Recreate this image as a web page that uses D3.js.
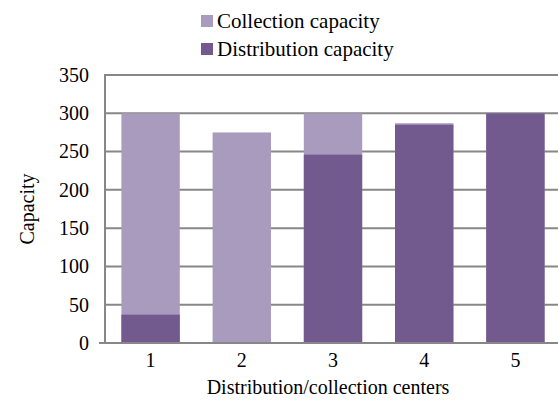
<!DOCTYPE html>
<html>
<head>
<meta charset="utf-8">
<script src="https://cdn.jsdelivr.net/npm/d3@7"></script>
<style>
  html, body { margin: 0; padding: 0; background: #fff; }
  svg { display: block; }
  svg text { font-family: "Liberation Serif", "Times New Roman", serif !important; fill: #000; }
</style>
</head>
<body>
<svg id="chart" width="558" height="402"></svg>
<script>
// Capacity of each distribution/collection center
const centers = ["1", "2", "3", "4", "5"];
const collectionCapacity = [300, 275, 300, 287, 300];
const distributionCapacity = [37, 0, 246, 285, 300];
const yTicks = [0, 50, 100, 150, 200, 250, 300, 350];
const seriesNames = ["Collection capacity", "Distribution capacity"];
const seriesColors = ["#A99BBE", "#72598E"];

const svg = d3.select("#chart");
const margin = { left: 105, top: 75, right: -3, bottom: 59 };
const W = 558, H = 402;
const plotRight = W - margin.right;
const plotBottom = H - margin.bottom;

const x = d3.scaleBand()
  .domain(centers)
  .range([margin.left, plotRight])
  .paddingInner(0.36)
  .paddingOuter(0.18);

const y = d3.scaleLinear()
  .domain([0, 350])
  .range([plotBottom, margin.top]);

const gridColor = "#878787";

// horizontal gridlines
svg.append("g")
  .selectAll("line")
  .data(yTicks)
  .join("line")
  .attr("x1", margin.left)
  .attr("x2", plotRight)
  .attr("y1", d => y(d))
  .attr("y2", d => y(d))
  .attr("stroke", gridColor)
  .attr("stroke-width", 2);

// overlapping bars: collection behind, distribution in front
const series = [collectionCapacity, distributionCapacity];
series.forEach((vals, si) => {
  svg.append("g")
    .selectAll("rect")
    .data(vals)
    .join("rect")
    .attr("x", (d, i) => x(centers[i]))
    .attr("width", x.bandwidth())
    .attr("y", d => y(d))
    .attr("height", d => y(0) - y(d))
    .attr("fill", seriesColors[si]);
});

// left axis line and baseline
svg.append("line")
  .attr("x1", margin.left).attr("x2", margin.left)
  .attr("y1", y(350) - 1).attr("y2", y(0) + 1)
  .attr("stroke", gridColor).attr("stroke-width", 2);
svg.append("line")
  .attr("x1", margin.left - 6).attr("x2", plotRight)
  .attr("y1", y(0)).attr("y2", y(0))
  .attr("stroke", gridColor).attr("stroke-width", 2);

// y axis labels
const yAxis = d3.axisLeft(y).tickValues(yTicks).tickSize(0).tickPadding(16);
const gy = svg.append("g")
  .attr("transform", `translate(${margin.left},0)`)
  .call(yAxis);
gy.select(".domain").remove();
gy.selectAll("text")
  .style("font-size", "20px")
  .attr("fill", "#000");

// x axis labels
const xAxis = d3.axisBottom(x).tickSize(0).tickPadding(10);
const gx = svg.append("g")
  .attr("transform", `translate(0,${plotBottom})`)
  .call(xAxis);
gx.select(".domain").remove();
gx.selectAll("text")
  .style("font-size", "20px")
  .attr("dy", "0")
  .attr("y", 24)
  .attr("fill", "#000");

// axis titles
svg.append("text")
  .attr("x", 328)
  .attr("y", 394)
  .attr("text-anchor", "middle")
  .style("font-size", "20px")
  .text("Distribution/collection centers");

svg.append("text")
  .attr("transform", `translate(34,${(margin.top + plotBottom) / 2}) rotate(-90)`)
  .attr("text-anchor", "middle")
  .style("font-size", "20px")
  .text("Capacity");

// legend
const legend = svg.append("g");
seriesNames.forEach((name, i) => {
  const cy = 21 + i * 28;
  legend.append("rect")
    .attr("x", 201).attr("y", cy - 6)
    .attr("width", 12).attr("height", 12)
    .attr("fill", seriesColors[i]);
  legend.append("text")
    .attr("x", 217).attr("y", cy)
    .attr("dy", "0.35em")
    .style("font-size", "21px")
    .text(name);
});
</script>
</body>
</html>
